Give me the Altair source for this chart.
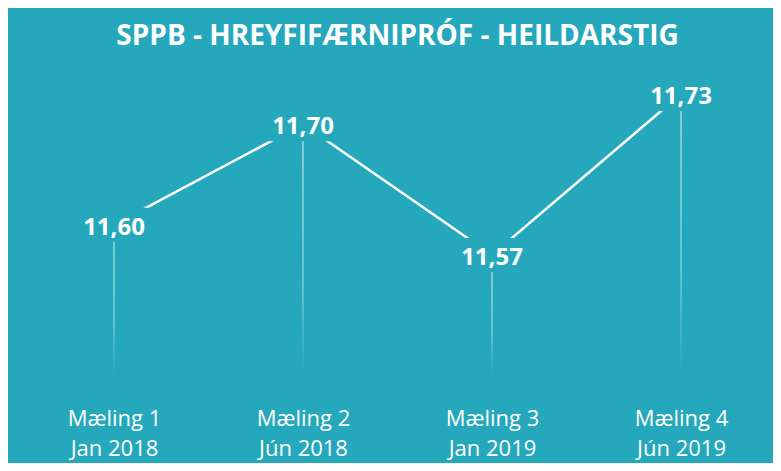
import altair as alt
import pandas as pd

measures = ["Mæling 1", "Mæling 2", "Mæling 3", "Mæling 4"]
dates = ["Jan 2018", "Jún 2018", "Jan 2019", "Jún 2019"]
values = [11.60, 11.70, 11.57, 11.73]

BG = "#26A8BC"
YMIN, YMAX = 11.4507, 11.7638

df = pd.DataFrame({
    "cat": [f"{m}|{d}" for m, d in zip(measures, dates)],
    "v": values,
    "base": [YMIN] * len(values),
})

x = alt.X(
    "cat:N", sort=None,
    scale=alt.Scale(type="point", padding=0.3915),
    axis=alt.Axis(
        title=None, labelExpr="split(datum.label, '|')", labelAngle=0,
        domain=False, ticks=False, grid=False, labelColor="white",
        labelFont="Open Sans", labelFontSize=22, labelLineHeight=30,
        labelPadding=33, labelBaseline="top",
    ),
)
y = alt.Y("v:Q", scale=alt.Scale(domain=[YMIN, YMAX], nice=False, zero=False), axis=None)

base = alt.Chart(df)

drops = base.mark_bar(
    size=1,
    color={
        "gradient": "linear", "x1": 0, "y1": 0, "x2": 0, "y2": 1,
        "stops": [
            {"offset": 0, "color": "rgba(255,255,255,0.85)"},
            {"offset": 0.6, "color": "rgba(255,255,255,0.65)"},
            {"offset": 1, "color": "rgba(255,255,255,0)"},
        ],
    },
).encode(x=x, y=y, y2="base:Q")

line = base.mark_line(color="white", strokeWidth=2.5).encode(x=x, y=y)

backdrop = base.mark_point(
    shape="M-1,-0.5L1,-0.5L1,0.5L-1,0.5Z", filled=True, fill=BG, opacity=1,
    size=68 * 68, strokeWidth=0,
).encode(x=x, y=y)

labels = base.transform_calculate(
    label="replace(format(datum.v, '.2f'), '.', ',')"
).mark_text(
    font="Open Sans", fontSize=24, fontWeight="bold", color="white",
    baseline="middle", align="center", dy=3,
).encode(x=x, y=y, text="label:N")

chart = alt.layer(drops, line, backdrop, labels).properties(
    width=715, height=315,
    background=BG,
    padding={"left": 32, "top": 52, "right": 18, "bottom": 88},
    autosize=alt.AutoSizeParams(type="none"),
    title=alt.TitleParams(
        "SPPB - HREYFIFÆRNIPRÓF - HEILDARSTIG",
        font="Open Sans", fontSize=28, fontWeight="bold", color="white",
        anchor="middle", offset=9,
    ),
).configure_view(stroke=None)

chart.save("out.html", embed_options={"renderer": "svg", "actions": False})
